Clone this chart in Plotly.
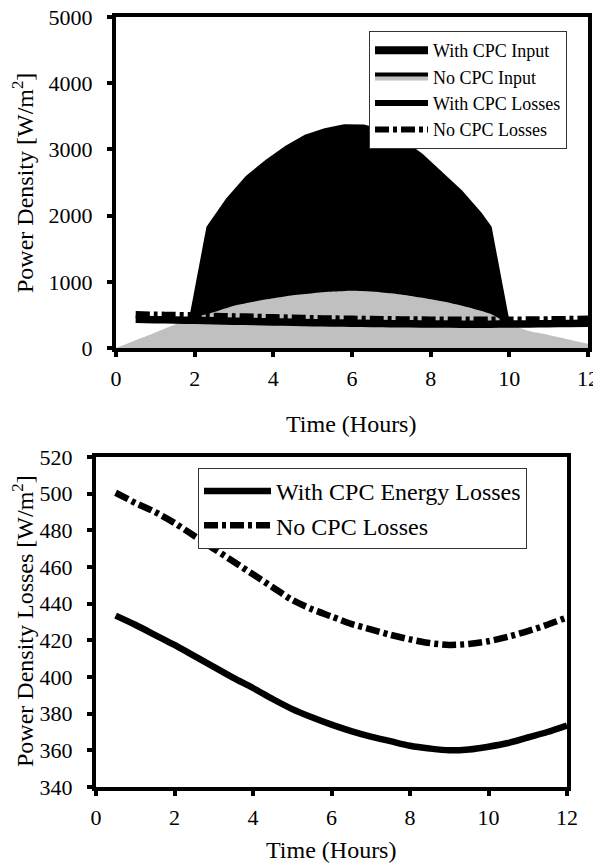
import plotly.graph_objects as go

# ---------------- data ----------------
# top chart: input power densities
grey_x = [0, 0.5, 1, 1.5, 2, 2.5, 3, 3.5, 4, 4.5, 5, 5.5, 6, 6.5, 7, 7.5, 8, 8.5, 9, 9.5, 10, 10.5, 11, 11.5, 12]
no_cpc_input = [0, 118, 235, 355, 460, 545, 640, 700, 750, 795, 826, 852, 866, 855, 826, 785, 735, 680, 609, 520, 365, 255, 196, 130, 65]

black_x = [1.85, 2.3, 2.8, 3.3, 3.8, 4.3, 4.8, 5.3, 5.8, 6.3, 6.8, 7.3, 7.8, 8.3, 8.8, 9.3, 9.55, 10.0]
with_cpc_input = [420, 1830, 2260, 2600, 2840, 3050, 3220, 3320, 3380, 3375, 3300, 3150, 2930, 2660, 2380, 2040, 1830, 420]

# losses (both charts)
loss_x = [0.5, 1, 1.5, 2, 2.5, 3, 3.5, 4, 4.5, 5, 5.5, 6, 6.5, 7, 7.5, 8, 8.5, 9, 9.5, 10, 10.5, 11, 11.5, 12]
no_cpc_losses = [500.5, 495, 490, 484, 477, 470, 463, 456, 449, 442, 437, 433, 429, 426, 423, 420.5, 418.5, 417.5, 418, 419.5, 422, 425, 428.5, 432.5]
with_cpc_losses = [433.5, 428.5, 423, 417.5, 411.5, 405.5, 399.5, 394, 388, 382.5, 378, 374, 370.5, 367.5, 365, 362.5, 361, 360, 360.5, 362, 364, 367, 370, 373.5]

top_x_ticks = [0, 2, 4, 6, 8, 10, 12]
top_y_ticks = [0, 1000, 2000, 3000, 4000, 5000]
bot_y_ticks = [340, 360, 380, 400, 420, 440, 460, 480, 500, 520]

FONT = "Liberation Serif"
# page body has an 8px margin, so the figure is sized to fill the rest of the window
OFF = 8
W, H = 601 - OFF, 867 - OFF
DASHDOT = "14px,4px,4px,4px"


def px_x(v):
    return (v - OFF) / W


def px_y(v):
    return 1 - (v - OFF) / H


fig = go.Figure()

# ---- top chart ----
fig.add_trace(go.Scatter(x=black_x, y=with_cpc_input, fill="tozeroy", mode="lines",
                         fillcolor="black", line=dict(color="black", width=0),
                         showlegend=False, xaxis="x", yaxis="y", hoverinfo="skip"))
fig.add_trace(go.Scatter(x=grey_x, y=no_cpc_input, fill="tozeroy", mode="lines",
                         fillcolor="#c0c0c0", line=dict(color="#c0c0c0", width=0, shape="spline",
                                                        smoothing=0.6),
                         showlegend=False, xaxis="x", yaxis="y", hoverinfo="skip"))
fig.add_trace(go.Scatter(x=loss_x, y=with_cpc_losses, mode="lines",
                         line=dict(color="black", width=7.5, shape="spline", smoothing=0.8),
                         name="With CPC Losses", showlegend=False, xaxis="x", yaxis="y"))
fig.add_trace(go.Scatter(x=loss_x, y=no_cpc_losses, mode="lines",
                         line=dict(color="black", width=7.5, dash=DASHDOT, shape="spline",
                                   smoothing=0.8),
                         name="No CPC Losses", showlegend=False, xaxis="x", yaxis="y"))

# legend entries for top chart
fig.add_trace(go.Scatter(x=[None], y=[None], fill="toself", mode="lines", fillcolor="black",
                         line=dict(color="black", width=4), name="With CPC Input",
                         legend="legend", xaxis="x", yaxis="y"))
fig.add_trace(go.Scatter(x=[None], y=[None], fill="toself", mode="lines", fillcolor="#c0c0c0",
                         line=dict(color="black", width=4), name="No CPC Input",
                         legend="legend", xaxis="x", yaxis="y"))
fig.add_trace(go.Scatter(x=[None], y=[None], mode="lines", line=dict(color="black", width=6),
                         name="With CPC Losses", legend="legend", xaxis="x", yaxis="y"))
fig.add_trace(go.Scatter(x=[None], y=[None], mode="lines",
                         line=dict(color="black", width=6, dash="14px,4px,4px,4px"),
                         name="No CPC Losses", legend="legend", xaxis="x", yaxis="y"))

# ---- bottom chart ----
fig.add_trace(go.Scatter(x=loss_x, y=with_cpc_losses, mode="lines",
                         line=dict(color="black", width=6.5, shape="spline", smoothing=0.8),
                         name="With CPC Energy Losses", legend="legend2", xaxis="x2", yaxis="y2"))
fig.add_trace(go.Scatter(x=loss_x, y=no_cpc_losses, mode="lines",
                         line=dict(color="black", width=6.5, dash=DASHDOT, shape="spline",
                                   smoothing=0.8),
                         name="No CPC Losses", legend="legend2", xaxis="x2", yaxis="y2"))

axis_common = dict(showgrid=False, zeroline=False, showline=True, linecolor="black",
                   linewidth=4, mirror=True, ticks="outside", ticklen=5, tickwidth=4,
                   tickcolor="black", automargin=False, ticklabeloverflow="allow",
                   tickfont=dict(family=FONT, size=22, color="black"))

title_font = dict(family=FONT, size=24, color="black")

fig.update_layout(
    width=W, height=H,
    margin=dict(l=0, r=0, t=0, b=0, autoexpand=False),
    paper_bgcolor="white", plot_bgcolor="white",
    font=dict(family=FONT, color="black"),
    xaxis=dict(domain=[px_x(116), px_x(588)], range=[0, 12], tickvals=top_x_ticks,
               anchor="y", ticklabelstandoff=3, **axis_common),
    yaxis=dict(domain=[px_y(348), px_y(17)], range=[0, 5000], tickvals=top_y_ticks,
               anchor="x", ticklabelstandoff=10, **axis_common),
    xaxis2=dict(domain=[px_x(96), px_x(567)], range=[0, 12], tickvals=top_x_ticks,
                anchor="y2", ticklabelstandoff=3, **axis_common),
    yaxis2=dict(domain=[px_y(787), px_y(457)], range=[340, 520], tickvals=bot_y_ticks,
                anchor="x2", ticklabelstandoff=10, **axis_common),
    legend=dict(x=px_x(369), y=px_y(31), xanchor="left", yanchor="top",
                bgcolor="white", bordercolor="#333333", borderwidth=1,
                font=dict(family=FONT, size=18, color="black"),
                itemwidth=53, tracegroupgap=0),
    legend2=dict(x=px_x(198), y=px_y(468), xanchor="left", yanchor="top",
                 bgcolor="white", bordercolor="#333333", borderwidth=1,
                 font=dict(family=FONT, size=24, color="black"),
                 itemwidth=67, tracegroupgap=0),
    annotations=[
        dict(text="Power Density [W/m<sup>2</sup>]", x=px_x(23), y=px_y(183), xref="paper",
             yref="paper", textangle=-90, showarrow=False, xanchor="center",
             yanchor="middle", font=title_font),
        dict(text="Time (Hours)", x=px_x(351), y=px_y(424), xref="paper", yref="paper",
             showarrow=False, xanchor="center", yanchor="middle", font=title_font),
        dict(text="Power Density Losses [W/m<sup>2</sup>]", x=px_x(23), y=px_y(621),
             xref="paper", yref="paper", textangle=-90, showarrow=False,
             xanchor="center", yanchor="middle", font=title_font),
        dict(text="Time (Hours)", x=px_x(331), y=px_y(850), xref="paper", yref="paper",
             showarrow=False, xanchor="center", yanchor="middle", font=title_font),
    ],
)

fig.write_html("out.html")
